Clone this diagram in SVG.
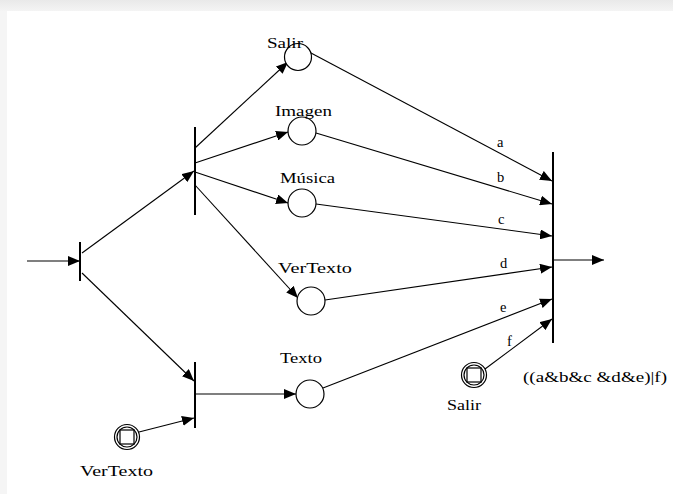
<svg xmlns="http://www.w3.org/2000/svg" width="673" height="494" viewBox="0 0 673 494">
  <defs>
    <linearGradient id="topband" x1="0" y1="0" x2="0" y2="1">
      <stop offset="0" stop-color="#e9e9e9"/>
      <stop offset="1" stop-color="#f4f4f4"/>
    </linearGradient>
    <marker id="arrow" viewBox="0 0 12 10" refX="12" refY="5" markerWidth="12" markerHeight="10" markerUnits="userSpaceOnUse" orient="auto">
      <path d="M0,0 L12,5 L0,10 z" fill="#000"/>
    </marker>
    <style>
      .bar { stroke: #000; stroke-width: 2; }
      .edge { stroke: #000; stroke-width: 1.1; fill: none; marker-end: url(#arrow); }
      .place { fill: #fff; stroke: #000; stroke-width: 1.2; }
      .lbl { font-family: "Liberation Serif", "Times New Roman", serif; font-size: 14.5px; fill: #000; }
    </style>
  </defs>

  <!-- page frame -->
  <rect x="0" y="0" width="673" height="494" fill="#f5f5f5"/>
  <rect x="0" y="0" width="673" height="11" fill="url(#topband)"/>
  <rect x="7" y="11" width="666" height="483" fill="#fff"/>

  <!-- connectors -->
  <g id="connectors">
    <line class="edge" x1="27" y1="261" x2="80" y2="261"/>
    <line class="edge" x1="82" y1="253" x2="194" y2="171"/>
    <line class="edge" x1="82" y1="273" x2="194" y2="381"/>
    <line class="edge" x1="195" y1="148" x2="288" y2="62"/>
    <line class="edge" x1="195" y1="163" x2="288" y2="132"/>
    <line class="edge" x1="195" y1="172" x2="288" y2="203"/>
    <line class="edge" x1="195" y1="185" x2="298" y2="298"/>
    <line class="edge" x1="195" y1="394" x2="296" y2="394"/>
    <line class="edge" x1="139" y1="432" x2="194" y2="418"/>
    <line class="edge" x1="311" y1="53" x2="552" y2="181"/>
    <line class="edge" x1="316" y1="133" x2="552" y2="204"/>
    <line class="edge" x1="316" y1="204" x2="552" y2="236"/>
    <line class="edge" x1="325" y1="300" x2="552" y2="267"/>
    <line class="edge" x1="323" y1="388" x2="552" y2="299"/>
    <line class="edge" x1="485" y1="369" x2="552" y2="319"/>
    <line class="edge" x1="553" y1="260" x2="604" y2="260"/>
    <text class="lbl" x="497" y="147">a</text>
    <text class="lbl" x="497" y="182">b</text>
    <text class="lbl" x="498" y="224">c</text>
    <text class="lbl" x="500" y="268">d</text>
    <text class="lbl" x="500" y="312">e</text>
    <text class="lbl" x="507" y="346">f</text>
  </g>

  <!-- transitions -->
  <g id="t-start"><line class="bar" x1="80" y1="242" x2="80" y2="281"/></g>
  <g id="t-menu"><line class="bar" x1="195" y1="127" x2="195" y2="215"/></g>
  <g id="t-texto"><line class="bar" x1="195" y1="362" x2="195" y2="428"/></g>
  <g id="t-end">
    <line class="bar" x1="553" y1="152" x2="553" y2="343"/>
    <text class="lbl" x="523" y="382" textLength="144" lengthAdjust="spacingAndGlyphs">((a&amp;b&amp;c &amp;d&amp;e)|f)</text>
  </g>

  <!-- places -->
  <g id="p-salir">
    <circle class="place" cx="298" cy="57" r="13.5"/>
    <text class="lbl" x="267" y="48" textLength="36" lengthAdjust="spacingAndGlyphs">Salir</text>
  </g>
  <g id="p-imagen">
    <circle class="place" cx="302" cy="131" r="14"/>
    <text class="lbl" x="275" y="116" textLength="57" lengthAdjust="spacingAndGlyphs">Imagen</text>
  </g>
  <g id="p-musica">
    <circle class="place" cx="302" cy="203" r="14"/>
    <text class="lbl" x="280" y="183" textLength="55" lengthAdjust="spacingAndGlyphs">Música</text>
  </g>
  <g id="p-vertexto">
    <circle class="place" cx="311" cy="301" r="14"/>
    <text class="lbl" x="278" y="273" textLength="74" lengthAdjust="spacingAndGlyphs">VerTexto</text>
  </g>
  <g id="p-texto">
    <circle class="place" cx="310" cy="394" r="14"/>
    <text class="lbl" x="280" y="363" textLength="42" lengthAdjust="spacingAndGlyphs">Texto</text>
  </g>
  <g id="e-vertexto">
    <circle class="place" cx="127" cy="437" r="12.5"/>
    <circle class="place" cx="127" cy="437" r="10"/>
    <rect class="place" x="120" y="430" width="14" height="14"/>
    <text class="lbl" x="80" y="476" textLength="73" lengthAdjust="spacingAndGlyphs">VerTexto</text>
  </g>
  <g id="e-salir">
    <circle class="place" cx="474" cy="375" r="12.5"/>
    <circle class="place" cx="474" cy="375" r="10"/>
    <rect class="place" x="467" y="368" width="14" height="14"/>
    <text class="lbl" x="447" y="410" textLength="34" lengthAdjust="spacingAndGlyphs">Salir</text>
  </g>
</svg>
